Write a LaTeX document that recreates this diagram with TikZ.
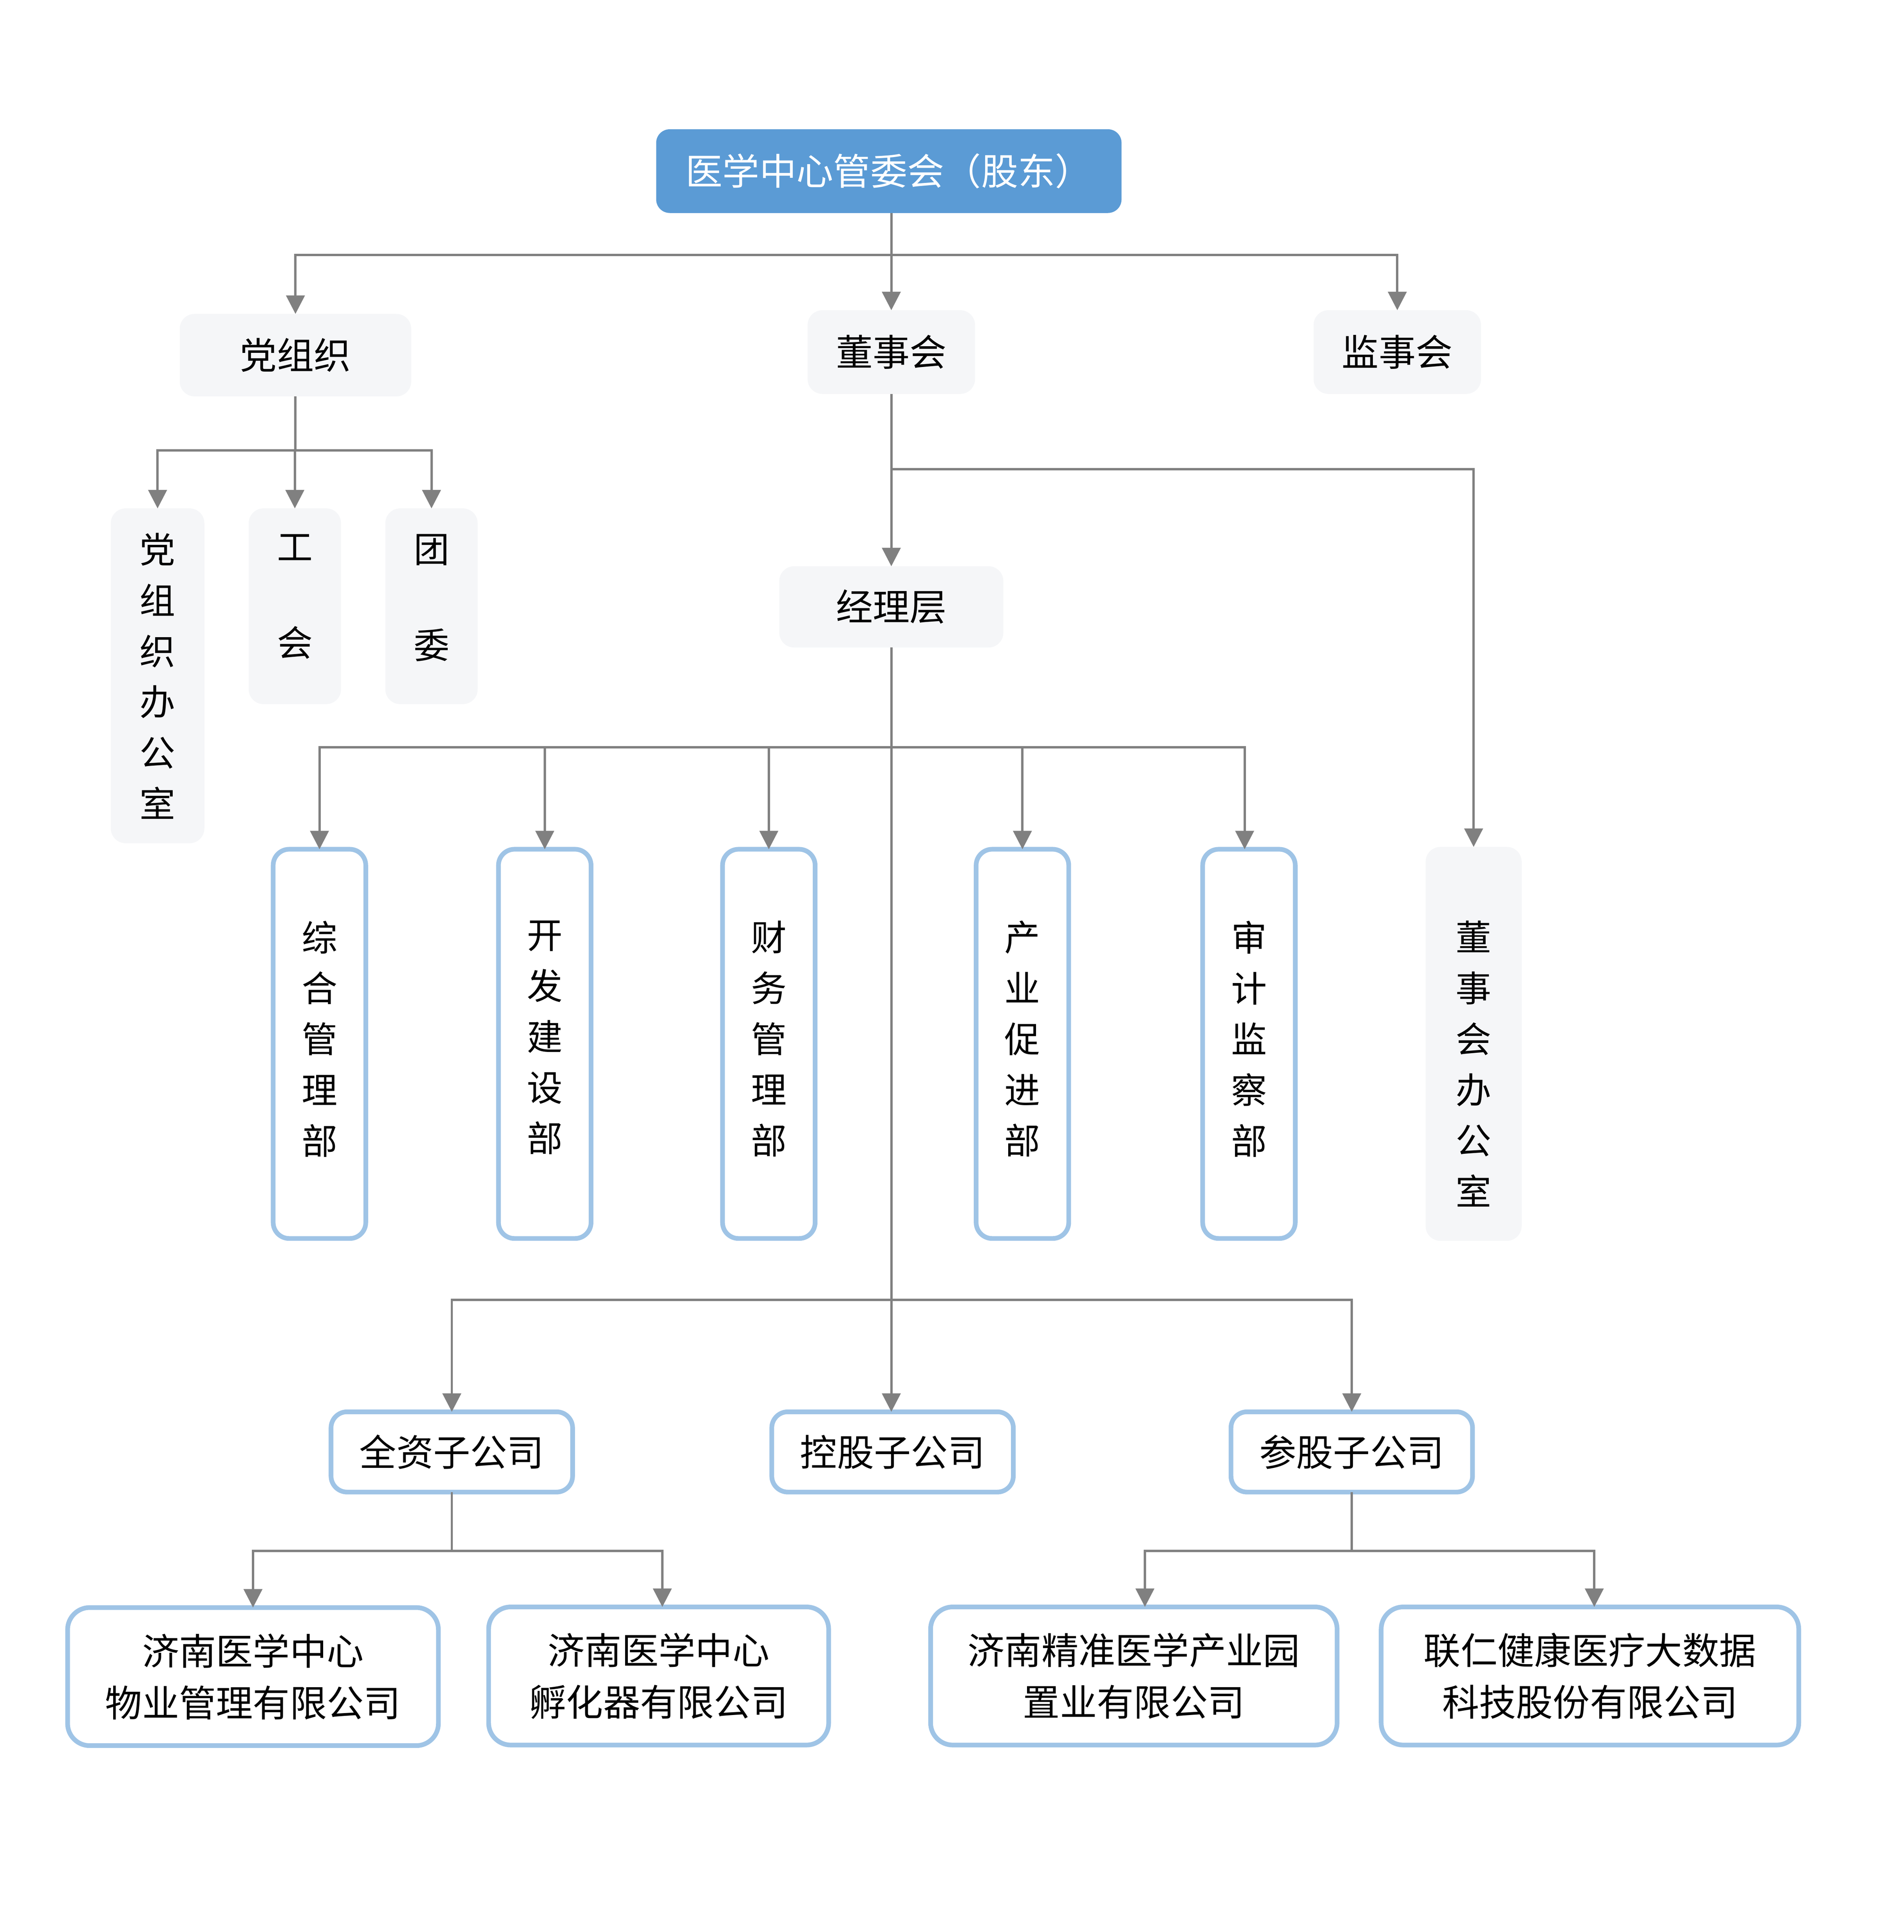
\documentclass[tikz,border=0pt]{standalone}
\usepackage{fontspec}
\newfontfamily\cjk{Noto Sans CJK SC}
\usetikzlibrary{arrows.meta,calc}
\definecolor{topblue}{HTML}{5B9BD5}
\definecolor{edgeblue}{HTML}{9FC4E6}
\definecolor{boxgray}{HTML}{F5F6F8}
\definecolor{linegray}{HTML}{808080}
\begin{document}
\begin{tikzpicture}[x=0.5pt,y=-0.5pt,
  every node/.style={inner sep=0pt, outer sep=0pt},
  hfont/.style={font=\cjk\fontsize{15pt}{21pt}\selectfont, align=center},
  vfont/.style={font=\cjk\fontsize{14.5pt}{20.65pt}\selectfont, align=center},
  topbox/.style={fill=topblue, rounded corners=5.5pt, text=white, hfont},
  graybox/.style={fill=boxgray, rounded corners=6pt},
  bluebox/.style={draw=edgeblue, line width=1.9pt, fill=white, rounded corners=6.5pt},
  conn/.style={draw=linegray, line width=0.95pt},
  arr/.style={conn, -{Triangle[width=7.5pt,length=7.5pt]}},
]
\path[use as bounding box] (0,0) rectangle (1546.3,1569.5);

% top
\node[topbox, minimum width=189pt, minimum height=34pt] (top) at (722,139) {医学中心管委会（股东）};

% second level
\node[graybox, hfont, minimum width=94pt, minimum height=33.5pt] (party) at (240,288.5) {党组织};
\node[graybox, hfont, minimum width=68pt, minimum height=34pt] (board) at (724,286) {董事会};
\node[graybox, hfont, minimum width=68pt, minimum height=34pt] (supv) at (1135,286) {监事会};
\node[graybox, hfont, minimum width=91pt, minimum height=33pt] (mgr) at (724,493) {经理层};

% party children
\node[graybox, minimum width=38pt, minimum height=136pt] (poff) at (128,549) {};
\node[vfont, anchor=north] (poffT) at (128,433) {党\\组\\织\\办\\公\\室};
\node[graybox, minimum width=37.5pt, minimum height=79.5pt] (union) at (239.5,492.5) {};
\node[vfont, anchor=north] (unionT) at (239.5,434) {工\\[18.35pt]会};
\node[graybox, minimum width=37.5pt, minimum height=79.5pt] (youth) at (350.5,492.5) {};
\node[vfont, anchor=north] (youthT) at (350.5,434) {团\\[18.35pt]委};

% departments
\node[bluebox, minimum width=37.6pt, minimum height=158.1pt] (d1) at (259.5,848) {};
\node[vfont, anchor=north] (d1T) at (259.5,748) {综\\合\\管\\理\\部};
\node[bluebox, minimum width=37.6pt, minimum height=158.1pt] (d2) at (442.5,848) {};
\node[vfont, anchor=north] (d2T) at (442.5,748) {开\\发\\建\\设\\部};
\node[bluebox, minimum width=37.6pt, minimum height=158.1pt] (d3) at (624.5,848) {};
\node[vfont, anchor=north] (d3T) at (624.5,748) {财\\务\\管\\理\\部};
\node[bluebox, minimum width=37.6pt, minimum height=158.1pt] (d4) at (830.5,848) {};
\node[vfont, anchor=north] (d4T) at (830.5,748) {产\\业\\促\\进\\部};
\node[bluebox, minimum width=37.6pt, minimum height=158.1pt] (d5) at (1014.5,848) {};
\node[vfont, anchor=north] (d5T) at (1014.5,748) {审\\计\\监\\察\\部};
\node[graybox, minimum width=39pt, minimum height=160pt] (dboff) at (1197,848) {};
\node[vfont, anchor=north] (dboffT) at (1197,748) {董\\事\\会\\办\\公\\室};

% subsidiaries
\node[bluebox, hfont, minimum width=98.1pt, minimum height=32.6pt] (s1) at (367,1179.5) {全资子公司};
\node[bluebox, hfont, minimum width=98.1pt, minimum height=32.6pt] (s2) at (725,1179.5) {控股子公司};
\node[bluebox, hfont, minimum width=98.1pt, minimum height=32.6pt] (s3) at (1098,1179.5) {参股子公司};

% companies
\node[bluebox, hfont, rounded corners=9pt, minimum width=150.6pt, minimum height=56.1pt] (b1) at (205.5,1362) {济南医学中心\\物业管理有限公司};
\node[bluebox, hfont, rounded corners=9pt, minimum width=138.1pt, minimum height=56.1pt] (b2) at (535,1361.5) {济南医学中心\\孵化器有限公司};
\node[bluebox, hfont, rounded corners=9pt, minimum width=165.1pt, minimum height=56.1pt] (b3) at (921,1361.5) {济南精准医学产业园\\置业有限公司};
\node[bluebox, hfont, rounded corners=9pt, minimum width=169.6pt, minimum height=56.1pt] (b4) at (1291.5,1361.5) {联仁健康医疗大数据\\科技股份有限公司};

% junction levels
\coordinate (j0) at (0,207);
\coordinate (j1) at (0,366);
\coordinate (j2) at (0,381);
\coordinate (j3) at (0,607);
\coordinate (j4) at (0,1056);
\coordinate (j5) at (0,1260);

% connectors
\draw[arr] (board.north |- top.south) -- (board.north);
\draw[arr] (board.north |- j0) -| (party.north);
\draw[arr] (board.north |- j0) -| (supv.north);

\draw[conn] (party.south) -- (party.south |- j1);
\draw[arr] (party.south |- j1) -| (poff.north);
\draw[arr] (party.south |- j1) -| (union.north);
\draw[arr] (party.south |- j1) -| (youth.north);

\draw[arr] (board.south) -- (mgr.north);
\draw[arr] (board.south |- j2) -| (dboff.north);

\draw[conn] (mgr.south) -- (mgr.south |- j4);
\draw[arr] (mgr.south |- j3) -| (d1.north);
\draw[arr] (mgr.south |- j3) -| (d2.north);
\draw[arr] (mgr.south |- j3) -| (d3.north);
\draw[arr] (mgr.south |- j3) -| (d4.north);
\draw[arr] (mgr.south |- j3) -| ([xshift=-1.75pt]d5.north);
\draw[arr] (mgr.south |- j4) -| (s1.north);
\draw[arr] (mgr.south |- j4) -| ([xshift=-0.5pt]s2.north);
\draw[arr] (mgr.south |- j4) -| (s3.north);

\draw[conn] (s1.south) -- (s1.south |- j5);
\draw[arr] (s1.south |- j5) -| (b1.north);
\draw[arr] (s1.south |- j5) -| ([xshift=1.5pt]b2.north);
\draw[conn] (s3.south) -- (s3.south |- j5);
\draw[arr] (s3.south |- j5) -| ([xshift=4.5pt]b3.north);
\draw[arr] (s3.south |- j5) -| ([xshift=1.75pt]b4.north);
\end{tikzpicture}
\end{document}
